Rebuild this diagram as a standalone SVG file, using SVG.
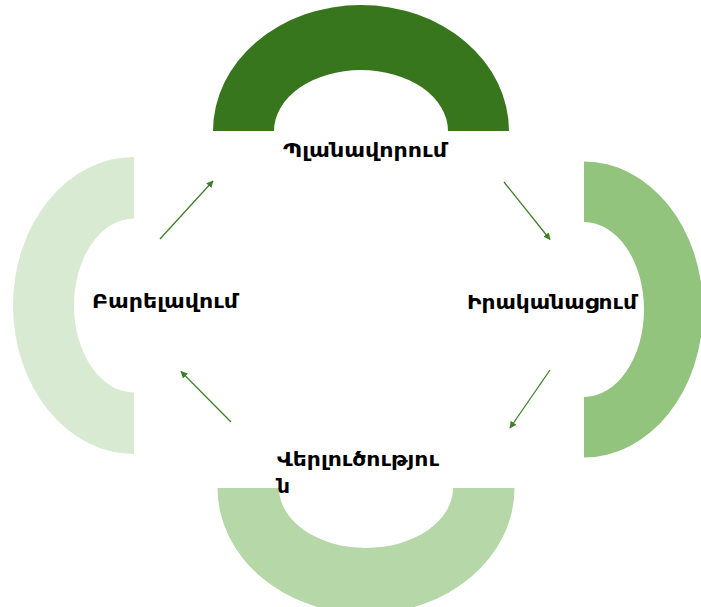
<svg xmlns="http://www.w3.org/2000/svg" width="701" height="607" viewBox="0 0 701 607">
<defs>
<style>
.lbl{font-family:"DejaVu Sans","Noto Sans",sans-serif;font-weight:bold;font-size:19px;fill:#000}
.con{stroke:#3f7f2a;stroke-width:1.3;fill:none}
</style>
<marker id="ah" viewBox="0 0 10 10" refX="9" refY="5" markerWidth="7" markerHeight="7" markerUnits="userSpaceOnUse" orient="auto">
<path d="M0,0 L10,5 L0,10 Z" fill="#3f7f2a"/>
</marker>
</defs>
<rect width="701" height="607" fill="#ffffff"/>
<g id="node-planning">
<path d="M213,131 A148,126 0 0 1 509,131 L448,131 A87,61 0 0 0 274,131 Z" fill="#38761d"/>
<text class="lbl" x="283" y="157" textLength="164" lengthAdjust="spacingAndGlyphs">Պլանավորում</text>
</g>
<g id="node-implementation">
<path d="M584,161.5 A119,148 0 0 1 584,457.5 L584,397 A60,87.5 0 0 0 584,222 Z" fill="#93c47d"/>
<text class="lbl" x="467" y="309" textLength="170" lengthAdjust="spacingAndGlyphs">Իրականացում</text>
</g>
<g id="node-analysis">
<path d="M217.5,488 A148.5,126 0 0 0 514.5,488 L453,488 A87,60 0 0 1 279,488 Z" fill="#b6d7a8"/>
<text class="lbl" x="277" y="466" textLength="162" lengthAdjust="spacingAndGlyphs">Վերլուծությու</text>
<text class="lbl" x="277" y="493" textLength="13" lengthAdjust="spacingAndGlyphs">ն</text>
</g>
<g id="node-improvement">
<path d="M134,157 A121,148.5 0 0 0 134,454 L134,392.5 A60,87 0 0 1 134,218.5 Z" fill="#d9ead3"/>
<text class="lbl" x="92" y="308" textLength="146" lengthAdjust="spacingAndGlyphs">Բարելավում</text>
</g>
<g id="connectors">
<line class="con" x1="160" y1="239" x2="213" y2="181" marker-end="url(#ah)"/>
<line class="con" x1="504" y1="182" x2="550" y2="239.5" marker-end="url(#ah)"/>
<line class="con" x1="550" y1="370" x2="510" y2="428" marker-end="url(#ah)"/>
<line class="con" x1="231" y1="422" x2="181" y2="371.5" marker-end="url(#ah)"/>
</g>
</svg>
